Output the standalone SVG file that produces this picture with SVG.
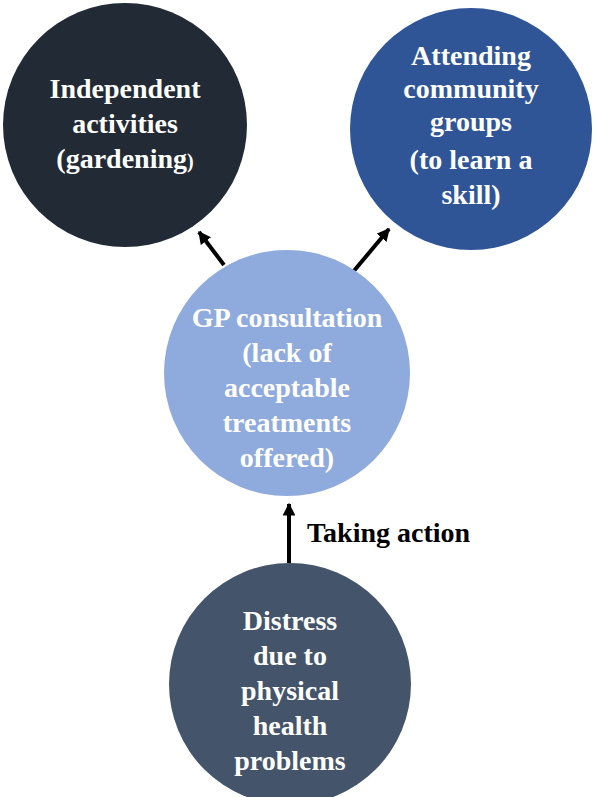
<svg xmlns="http://www.w3.org/2000/svg" width="596" height="797" viewBox="0 0 596 797">
<defs>
<marker id="ah" viewBox="0 0 10 10" refX="9" refY="5" markerWidth="3.2" markerHeight="3.2" orient="auto" markerUnits="strokeWidth">
<path d="M0,0 L10,5 L0,10 Z" fill="#000"/>
</marker>
</defs>
<style>
.t{font-family:"Liberation Serif","Times New Roman",serif;font-weight:bold;font-size:28px;fill:#fff;text-anchor:middle}
.c{stroke:#000;stroke-width:4;fill:none;marker-end:url(#ah)}
</style>
<rect width="596" height="797" fill="#fff"/>
<g id="connectors">
<line class="c" x1="224" y1="265" x2="199" y2="232"/>
<line class="c" x1="353" y1="272" x2="389" y2="229"/>
<line class="c" x1="289" y1="563" x2="289" y2="504"/>
<text x="307" y="542" font-family="Liberation Serif,serif" font-weight="bold" font-size="28" fill="#000">Taking action</text>
</g>
<g id="n1">
<circle cx="125" cy="125" r="122" fill="#222A35"/>
<text class="t" x="125" y="98">Independent</text>
<text class="t" x="125" y="133">activities</text>
<text class="t" x="125" y="168">(gardening<tspan font-size="20">)</tspan></text>
</g>
<g id="n2">
<circle cx="471" cy="129" r="121" fill="#2F5597"/>
<text class="t" x="471" y="65">Attending</text>
<text class="t" x="471" y="98">community</text>
<text class="t" x="471" y="131">groups</text>
<text class="t" x="471" y="169">(to learn a</text>
<text class="t" x="471" y="204">skill)</text>
</g>
<g id="n3">
<circle cx="287" cy="373" r="123" fill="#8FAADC"/>
<text class="t" x="287" y="327">GP consultation</text>
<text class="t" x="287" y="362">(lack of</text>
<text class="t" x="287" y="397">acceptable</text>
<text class="t" x="287" y="432">treatments</text>
<text class="t" x="287" y="467">offered)</text>
</g>
<g id="n4">
<circle cx="290" cy="684" r="121" fill="#44546A"/>
<text class="t" x="290" y="630">Distress</text>
<text class="t" x="290" y="665">due to</text>
<text class="t" x="290" y="700">physical</text>
<text class="t" x="290" y="735">health</text>
<text class="t" x="290" y="770">problems</text>
</g>
</svg>
